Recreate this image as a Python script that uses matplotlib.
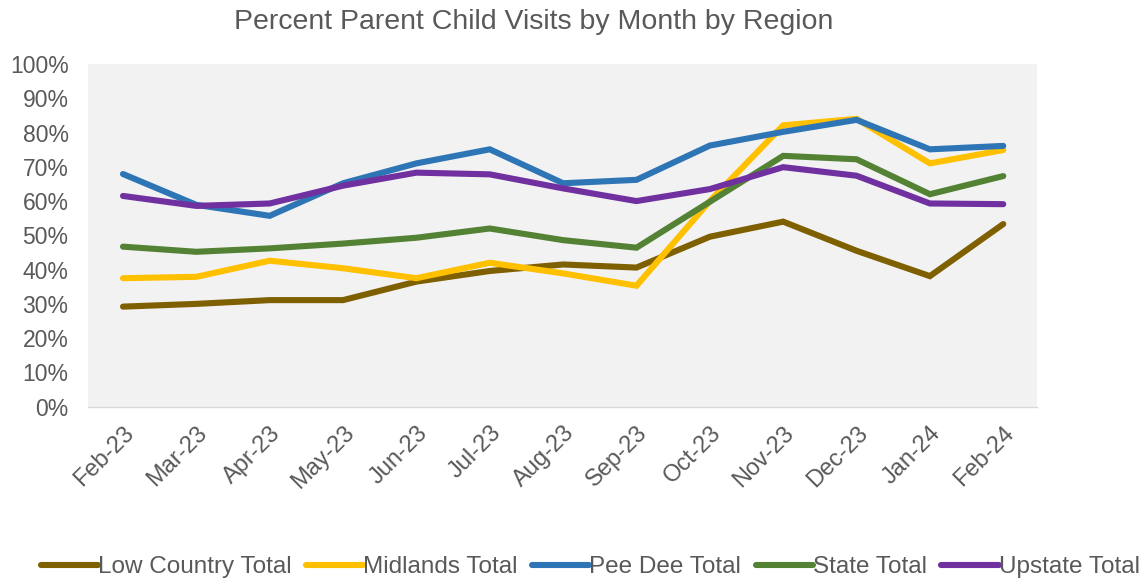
import matplotlib
matplotlib.use("Agg")
import matplotlib.pyplot as plt
from matplotlib.ticker import FuncFormatter, MultipleLocator

plt.rcParams['font.family'] = ['Liberation Sans', 'DejaVu Sans']

months = ["Feb-23", "Mar-23", "Apr-23", "May-23", "Jun-23", "Jul-23", "Aug-23",
          "Sep-23", "Oct-23", "Nov-23", "Dec-23", "Jan-24", "Feb-24"]

low_country = [29.2, 30.0, 31.1, 31.1, 36.5, 39.6, 41.5, 40.6, 49.6, 54.0, 45.5, 38.1, 53.3]
midlands    = [37.5, 37.9, 42.6, 40.4, 37.5, 42.0, 38.9, 35.3, 60.0, 82.1, 84.0, 71.0, 74.9]
pee_dee     = [67.9, 58.9, 55.7, 65.2, 71.0, 75.1, 65.2, 66.2, 76.2, 80.2, 83.7, 75.1, 76.1]
state       = [46.7, 45.2, 46.2, 47.6, 49.3, 52.0, 48.6, 46.4, 59.8, 73.2, 72.2, 62.0, 67.3]
upstate     = [61.5, 58.6, 59.3, 64.5, 68.3, 67.8, 63.7, 60.0, 63.5, 69.9, 67.4, 59.3, 59.1]

series = [
    ("Low Country Total", low_country, "#7F6000"),
    ("Midlands Total", midlands, "#FFC000"),
    ("Pee Dee Total", pee_dee, "#2E75B6"),
    ("State Total", state, "#548235"),
    ("Upstate Total", upstate, "#7030A0"),
]

fig = plt.figure(figsize=(11.47, 5.81), dpi=100)
ax = fig.add_axes([88/1147, 1 - 406.7/581, (1037-88)/1147, (406.7-64)/581])
ax.set_facecolor("#F2F2F2")

x = list(range(len(months)))
for name, vals, col in series:
    ax.plot(x, vals, color=col, lw=4.4, label=name, solid_capstyle='round',
            solid_joinstyle='miter')

ax.set_xlim(-0.477, 12.46)
ax.set_ylim(0, 100)
ax.yaxis.set_major_locator(MultipleLocator(10))
ax.yaxis.set_major_formatter(FuncFormatter(lambda v, p: f"{v:.0f}%"))
ax.set_xticks(x)
ax.set_xticklabels(months, rotation=45, ha='right', rotation_mode='anchor')

for s in ["top", "right", "left"]:
    ax.spines[s].set_visible(False)
ax.spines["bottom"].set_color("#D9D9D9")
ax.spines["bottom"].set_linewidth(1.0)

ax.tick_params(axis='y', length=0, pad=14, labelsize=16.5, labelcolor="#595959")
ax.tick_params(axis='x', length=0, pad=11, labelsize=17, labelcolor="#595959")

fig.text(0.4655, 0.962, "Percent Parent Child Visits by Month by Region",
         ha='center', va='center', fontsize=20.5, color="#595959")

leg = fig.legend(loc='center', bbox_to_anchor=(0.5145, 0.024), ncol=5, frameon=False,
                 fontsize=17.5, handlelength=2.35, handletextpad=0.0,
                 columnspacing=0.6, labelcolor="#595959", borderaxespad=0,
                 borderpad=0)
for line in leg.get_lines():
    line.set_linewidth(4.4)

fig.savefig("out.png", dpi=100, facecolor="white")
